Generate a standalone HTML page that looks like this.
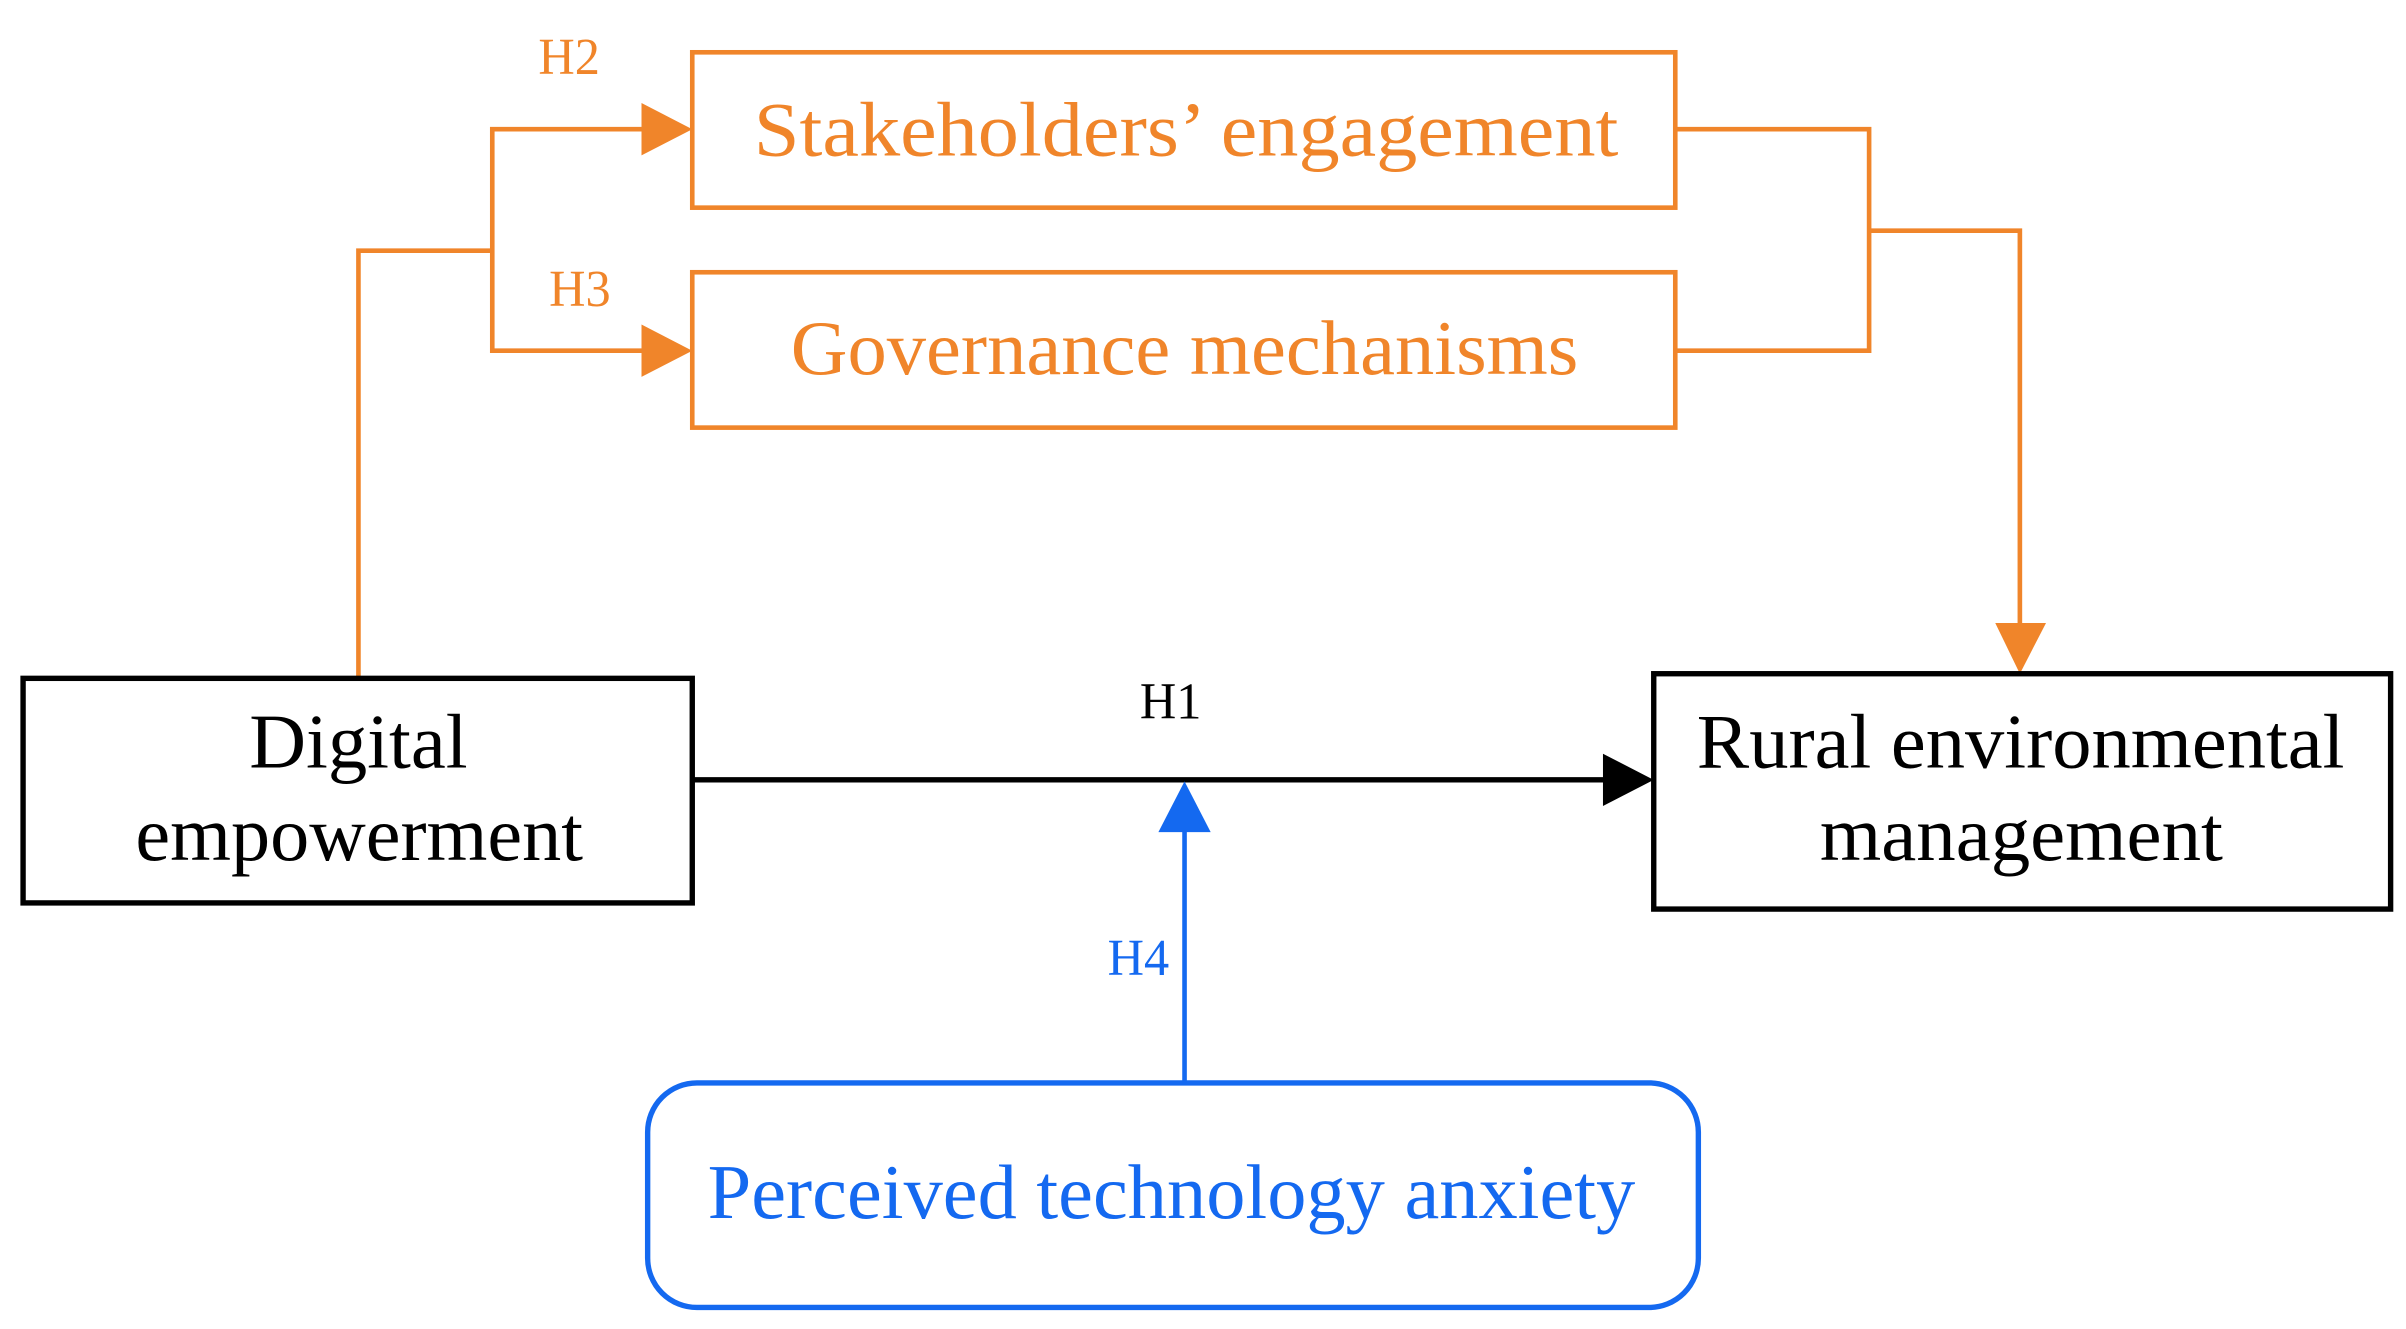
<!DOCTYPE html>
<html><head><meta charset="utf-8"><style>html,body{margin:0;padding:0;background:#fff;width:2406px;height:1329px;overflow:hidden}</style></head>
<body>
<svg width="2406" height="1329" viewBox="0 0 1564 864" preserveAspectRatio="none" xmlns="http://www.w3.org/2000/svg" font-family="'Liberation Serif', serif">
<g fill="none" stroke="#F0852A" stroke-width="3">
<rect x="450" y="34" width="639" height="101"/>
<rect x="450" y="177" width="639" height="101"/>
<polyline points="233,441 233,163 320,163"/>
<polyline points="420,84 320,84 320,228 420,228"/>
<polyline points="1089,84 1215,84 1215,228 1089,228"/>
<polyline points="1215,150 1313,150 1313,408"/>
</g>
<g fill="#F0852A">
<polygon points="417,67 450,84 417,101"/>
<polygon points="417,211 450,228 417,245"/>
<polygon points="1297,405 1330,405 1313,438"/>
</g>
<g fill="none" stroke="#000" stroke-width="3.5">
<rect x="15" y="441" width="435" height="146"/>
<rect x="1075" y="438" width="479" height="153"/>
<line x1="450" y1="507" x2="1045" y2="507"/>
</g>
<polygon points="1042,490 1075,507 1042,524" fill="#000"/>
<rect x="421" y="704" width="683" height="146" rx="32" fill="none" stroke="#1469F0" stroke-width="3.5"/>
<line x1="770" y1="704" x2="770" y2="538" stroke="#1469F0" stroke-width="3"/>
<polygon points="753,541 787,541 770,508" fill="#1469F0"/>
<g fill="#F0852A" font-size="34" text-anchor="middle">
<text x="370" y="48" textLength="40" lengthAdjust="spacingAndGlyphs">H2</text>
<text x="377" y="199" textLength="40" lengthAdjust="spacingAndGlyphs">H3</text>
</g>
<text x="761" y="467" font-size="34" text-anchor="middle" textLength="40" lengthAdjust="spacingAndGlyphs">H1</text>
<text x="740" y="634" font-size="34" text-anchor="middle" fill="#1469F0" textLength="40" lengthAdjust="spacingAndGlyphs">H4</text>
<g font-size="50" fill="#F0852A">
<text x="490" y="101" textLength="562" lengthAdjust="spacingAndGlyphs">Stakeholders’ engagement</text>
<text x="514" y="243" textLength="512" lengthAdjust="spacingAndGlyphs">Governance mechanisms</text>
</g>
<g font-size="50" fill="#000">
<text x="162" y="499" textLength="142" lengthAdjust="spacingAndGlyphs">Digital</text>
<text x="88" y="559" textLength="291" lengthAdjust="spacingAndGlyphs">empowerment</text>
<text x="1103" y="499" textLength="421" lengthAdjust="spacingAndGlyphs">Rural environmental</text>
<text x="1183" y="559" textLength="262" lengthAdjust="spacingAndGlyphs">management</text>
</g>
<text x="460" y="792" font-size="50" fill="#1469F0" textLength="603" lengthAdjust="spacingAndGlyphs">Perceived technology anxiety</text>
</svg>
</body></html>
